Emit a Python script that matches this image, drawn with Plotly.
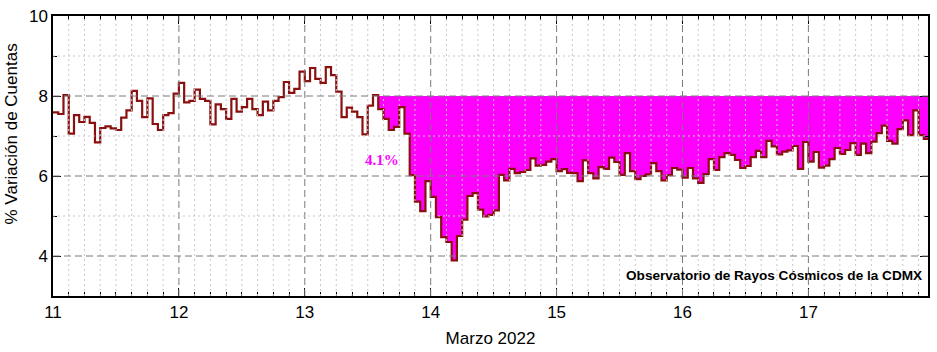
import numpy as np
import plotly.graph_objects as go

# ---- data (hourly % count variation, starting 11 March 2022 00:00) ----
START_DAY = 11
HOURS_PER_DAY = 24

day11 = [7.59, 7.55, 8.02, 7.06, 7.52, 7.35, 7.48, 7.33, 6.84, 7.20, 7.24, 7.19,
         7.15, 7.46, 7.64, 8.13, 7.88, 7.47, 7.94, 7.30, 7.15, 7.52, 7.57, 8.06]
day12 = [8.33, 7.84, 7.88, 8.16, 7.93, 7.88, 7.29, 7.79, 7.67, 7.43, 7.93, 7.61,
         7.72, 7.93, 7.67, 7.52, 7.86, 7.64, 7.88, 7.97, 8.35, 8.08, 8.18, 8.61]
day13 = [8.37, 8.70, 8.43, 8.33, 8.72, 8.52, 8.11, 7.47, 7.71, 7.61, 7.47, 7.04,
         7.76, 8.02, 7.67, 7.43, 7.15, 7.23, 7.72, 7.06, 6.02, 5.36, 5.12, 5.87]
day14 = [5.48, 4.97, 4.47, 4.35, 3.89, 4.50, 4.91, 5.50, 5.57, 5.16, 4.99, 5.03,
         5.14, 6.03, 5.89, 6.18, 6.07, 6.10, 6.15, 6.44, 6.26, 6.28, 6.36, 6.42]
day15 = [6.12, 6.17, 6.08, 6.07, 5.87, 6.39, 6.07, 5.94, 6.22, 6.18, 6.46, 6.35,
         6.03, 6.57, 6.12, 5.92, 6.00, 6.04, 6.32, 6.12, 5.89, 6.02, 6.20, 6.16]
day16 = [5.96, 6.20, 5.94, 5.83, 6.05, 6.42, 6.15, 6.47, 6.57, 6.53, 6.40, 6.20,
         6.25, 6.47, 6.63, 6.47, 6.88, 6.74, 6.54, 6.61, 6.64, 6.75, 6.18, 6.85]
day17 = [6.36, 6.60, 6.21, 6.26, 6.42, 6.70, 6.55, 6.65, 6.82, 6.53, 6.81, 6.57,
         6.86, 7.07, 7.26, 6.88, 6.81, 7.17, 7.39, 7.02, 7.64, 7.02, 6.93]

values = day11 + day12 + day13 + day14 + day15 + day16 + day17

FD_START_INDEX = 62        # onset of the Forbush decrease (13 Mar, 14 h)
BASELINE = 8.0             # pre-event level used for the shaded area
DECREASE_LABEL = "4.1%"

x_tick_vals = [11, 12, 13, 14, 15, 16, 17]
y_tick_vals = [4, 6, 8, 10]
X_RANGE = [11, 17.95]
Y_RANGE = [3, 10]

# ---- build ----
x = START_DAY + np.arange(len(values) + 1) / HOURS_PER_DAY
y = values + [values[-1]]

LINE_COLOR = "#8a1010"
FILL_COLOR = "#ff00ff"

fig = go.Figure()
fig.add_trace(go.Scatter(
    x=[x[FD_START_INDEX], x[-1]], y=[BASELINE, BASELINE], mode="lines",
    line=dict(width=0, shape="hv"), showlegend=False, hoverinfo="skip"))
fig.add_trace(go.Scatter(
    x=x[FD_START_INDEX:], y=y[FD_START_INDEX:], mode="lines",
    line=dict(width=0, shape="hv"), fill="tonexty", fillcolor=FILL_COLOR,
    showlegend=False, hoverinfo="skip"))
fig.add_trace(go.Scatter(
    x=x, y=y, mode="lines", line=dict(color=LINE_COLOR, width=2.2, shape="hv"),
    showlegend=False))

# grid lines drawn above the fill
shapes = []
minor_x = np.arange(X_RANGE[0], X_RANGE[1], 0.125)
for xv in minor_x:
    if abs(xv - round(xv)) < 1e-9:
        continue
    shapes.append(dict(type="line", xref="x", yref="paper", x0=xv, x1=xv, y0=0, y1=1,
                       line=dict(color="#c8c8c8", width=1, dash="2px,3px"), layer="above"))
for xv in x_tick_vals[1:]:
    shapes.append(dict(type="line", xref="x", yref="paper", x0=xv, x1=xv, y0=0, y1=1,
                       line=dict(color="#7a7a7a", width=1, dash="7px,4px"), layer="above"))
for yv in [5, 7, 9]:
    shapes.append(dict(type="line", xref="paper", yref="y", x0=0, x1=1, y0=yv, y1=yv,
                       line=dict(color="#c8c8c8", width=1, dash="2px,3px"), layer="above"))
for yv in y_tick_vals[:-1]:
    shapes.append(dict(type="line", xref="paper", yref="y", x0=0, x1=1, y0=yv, y1=yv,
                       line=dict(color="#7a7a7a", width=1, dash="7px,4px"), layer="above"))

tick_font = dict(family="Liberation Sans, Arial, sans-serif", size=17, color="black")

fig.update_layout(
    width=937, height=352,
    margin=dict(l=53, r=7, t=13, b=55),
    paper_bgcolor="white", plot_bgcolor="white",
    shapes=shapes,
    xaxis=dict(
        range=X_RANGE, tickmode="linear", tick0=11, dtick=1,
        ticks="inside", ticklen=8, tickwidth=1, tickcolor="black",
        showline=True, linecolor="black", linewidth=1.5, mirror="allticks",
        showgrid=False, zeroline=False, tickfont=tick_font,
        minor=dict(tick0=11, dtick=0.125, ticks="inside", ticklen=4,
                   tickcolor="black", showgrid=False),
        title=dict(text="Marzo 2022", font=tick_font, standoff=11),
    ),
    yaxis=dict(
        range=Y_RANGE, tickmode="linear", tick0=0, dtick=2,
        ticks="inside", ticklen=8, tickwidth=1, tickcolor="black",
        showline=True, linecolor="black", linewidth=1.5, mirror="allticks",
        showgrid=False, zeroline=False, tickfont=tick_font,
        minor=dict(tick0=0, dtick=1, ticks="inside", ticklen=4,
                   tickcolor="black", showgrid=False),
    ),
    annotations=[
        dict(x=-0.047, y=0.58, xref="paper", yref="paper", xanchor="center", yanchor="middle",
             textangle=-90, text="% Variación de Cuentas", showarrow=False,
             font=dict(family="Liberation Sans, Arial, sans-serif", size=17, color="black")),
        dict(x=13.615, y=6.4, xref="x", yref="y", text="<b>" + DECREASE_LABEL + "</b>",
             showarrow=False,
             font=dict(family="Liberation Serif, Times New Roman, serif", size=15, color=FILL_COLOR)),
        dict(x=0.995, y=0.074, xref="paper", yref="paper", xanchor="right", yanchor="middle",
             text="<b>Observatorio de Rayos Cósmicos de la CDMX</b>", showarrow=False,
             font=dict(family="Liberation Sans, Arial, sans-serif", size=13.6, color="black")),
    ],
)

fig.write_html("out.html")
